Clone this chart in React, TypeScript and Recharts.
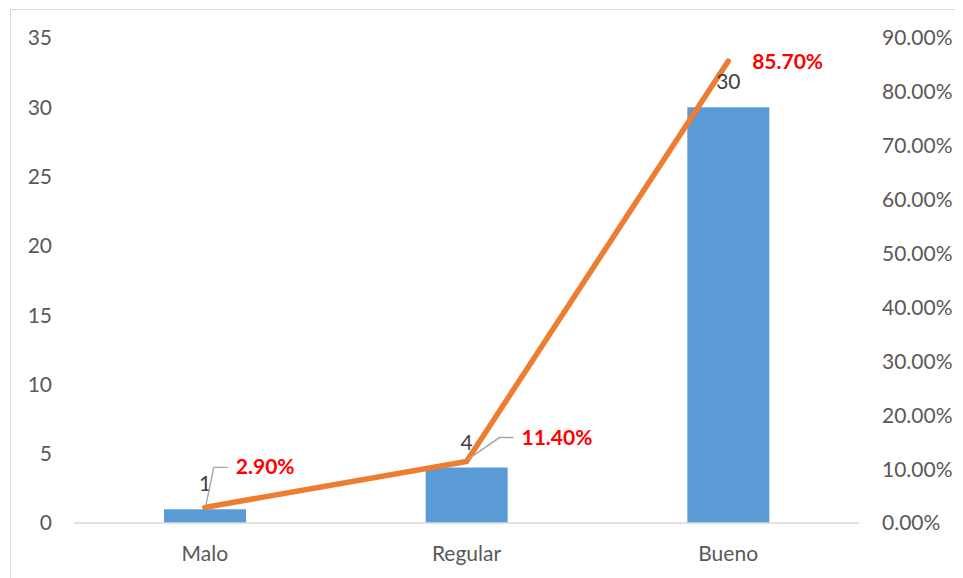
import React from "react";
import {
  ComposedChart,
  Bar,
  Line,
  XAxis,
  YAxis,
  LabelList,
} from "recharts";

const categories = ["Malo", "Regular", "Bueno"];
const counts = [1, 4, 30];
const percents = [0.029, 0.114, 0.857];
const countTicks = [0, 5, 10, 15, 20, 25, 30, 35];
const percentTicks = [0, 0.1, 0.2, 0.3, 0.4, 0.5, 0.6, 0.7, 0.8, 0.9];

const data = categories.map((name, i) => ({
  name,
  count: counts[i],
  pct: percents[i],
}));

// where Excel dragged the percentage labels to (relative to the point)
const pctLabelPos = [
  { dx: 31, dy: -33, leader: true },
  { dx: 55, dy: -17, leader: true },
  { dx: 24, dy: 8, leader: false },
];

const FONT = "Lato, 'Open Sans', sans-serif";
const fmtPct = (v: number) => (v * 100).toFixed(2) + "%";

const CountLabel = (props: any) => {
  const { x, y, width, value } = props;
  return (
    <text
      x={x + width / 2}
      y={y - 18}
      textAnchor="middle"
      fill="#404040"
      fontSize={21}
      fontFamily={FONT}
    >
      {value}
    </text>
  );
};

const PctLabel = (props: any) => {
  const { x, y, value, index } = props;
  const p = pctLabelPos[index];
  const tx = x + p.dx;
  const ty = y + p.dy;
  return (
    <g>
      {p.leader && (
        <polyline
          points={`${x + 1},${y - 2} ${tx - 22},${ty - 7} ${tx - 8},${ty - 7}`}
          fill="none"
          stroke="#a6a6a6"
          strokeWidth={1.4}
        />
      )}
      <text
        x={tx}
        y={ty}
        fill="#ff0000"
        fontWeight="bold"
        fontSize={21}
        fontFamily={FONT}
      >
        {fmtPct(value)}
      </text>
    </g>
  );
};

export default function App() {
  return (
    <div
      style={{
        position: "relative",
        width: 963,
        height: 578,
        marginLeft: -8,
        marginTop: -8,
        background: "#fff",
        overflow: "hidden",
      }}
    >
      <div
        style={{
          position: "absolute",
          left: 10,
          top: 9,
          width: 980,
          height: 600,
          border: "1px solid #d9d9d9",
        }}
      />
      <div style={{ position: "absolute", left: 0, top: 0 }}>
        <ComposedChart
          width={963}
          height={578}
          data={data}
          margin={{ top: 38, right: 14, bottom: 15, left: 14 }}
        >
          <XAxis
            dataKey="name"
            axisLine={{ stroke: "#d9d9d9", strokeWidth: 1.5 }}
            tickLine={false}
            tickSize={0}
            tickMargin={23}
            height={40}
            tick={{ fill: "#595959", fontSize: 21, fontFamily: FONT }}
          />
          <YAxis
            yAxisId="left"
            domain={[0, 35]}
            ticks={countTicks}
            axisLine={false}
            tickLine={false}
            tickSize={0}
            tickMargin={22}
            width={60}
            interval={0}
            tick={{ fill: "#595959", fontSize: 21, fontFamily: FONT }}
          />
          <YAxis
            yAxisId="right"
            orientation="right"
            domain={[0, 0.9]}
            ticks={percentTicks}
            tickFormatter={fmtPct}
            axisLine={false}
            tickLine={false}
            tickSize={0}
            tickMargin={23}
            width={90}
            interval={0}
            tick={{
              fill: "#595959",
              fontSize: 21,
              fontFamily: FONT,
              textAnchor: "start",
            }}
          />
          <Bar
            yAxisId="left"
            dataKey="count"
            fill="#5b9bd5"
            barSize={82}
            isAnimationActive={false}
          >
            <LabelList dataKey="count" content={CountLabel} />
          </Bar>
          <Line
            yAxisId="right"
            dataKey="pct"
            type="linear"
            stroke="#ed7d31"
            strokeWidth={5.5}
            strokeLinecap="round"
            dot={false}
            activeDot={false}
            isAnimationActive={false}
          >
            <LabelList dataKey="pct" content={PctLabel} />
          </Line>
        </ComposedChart>
      </div>
    </div>
  );
}
